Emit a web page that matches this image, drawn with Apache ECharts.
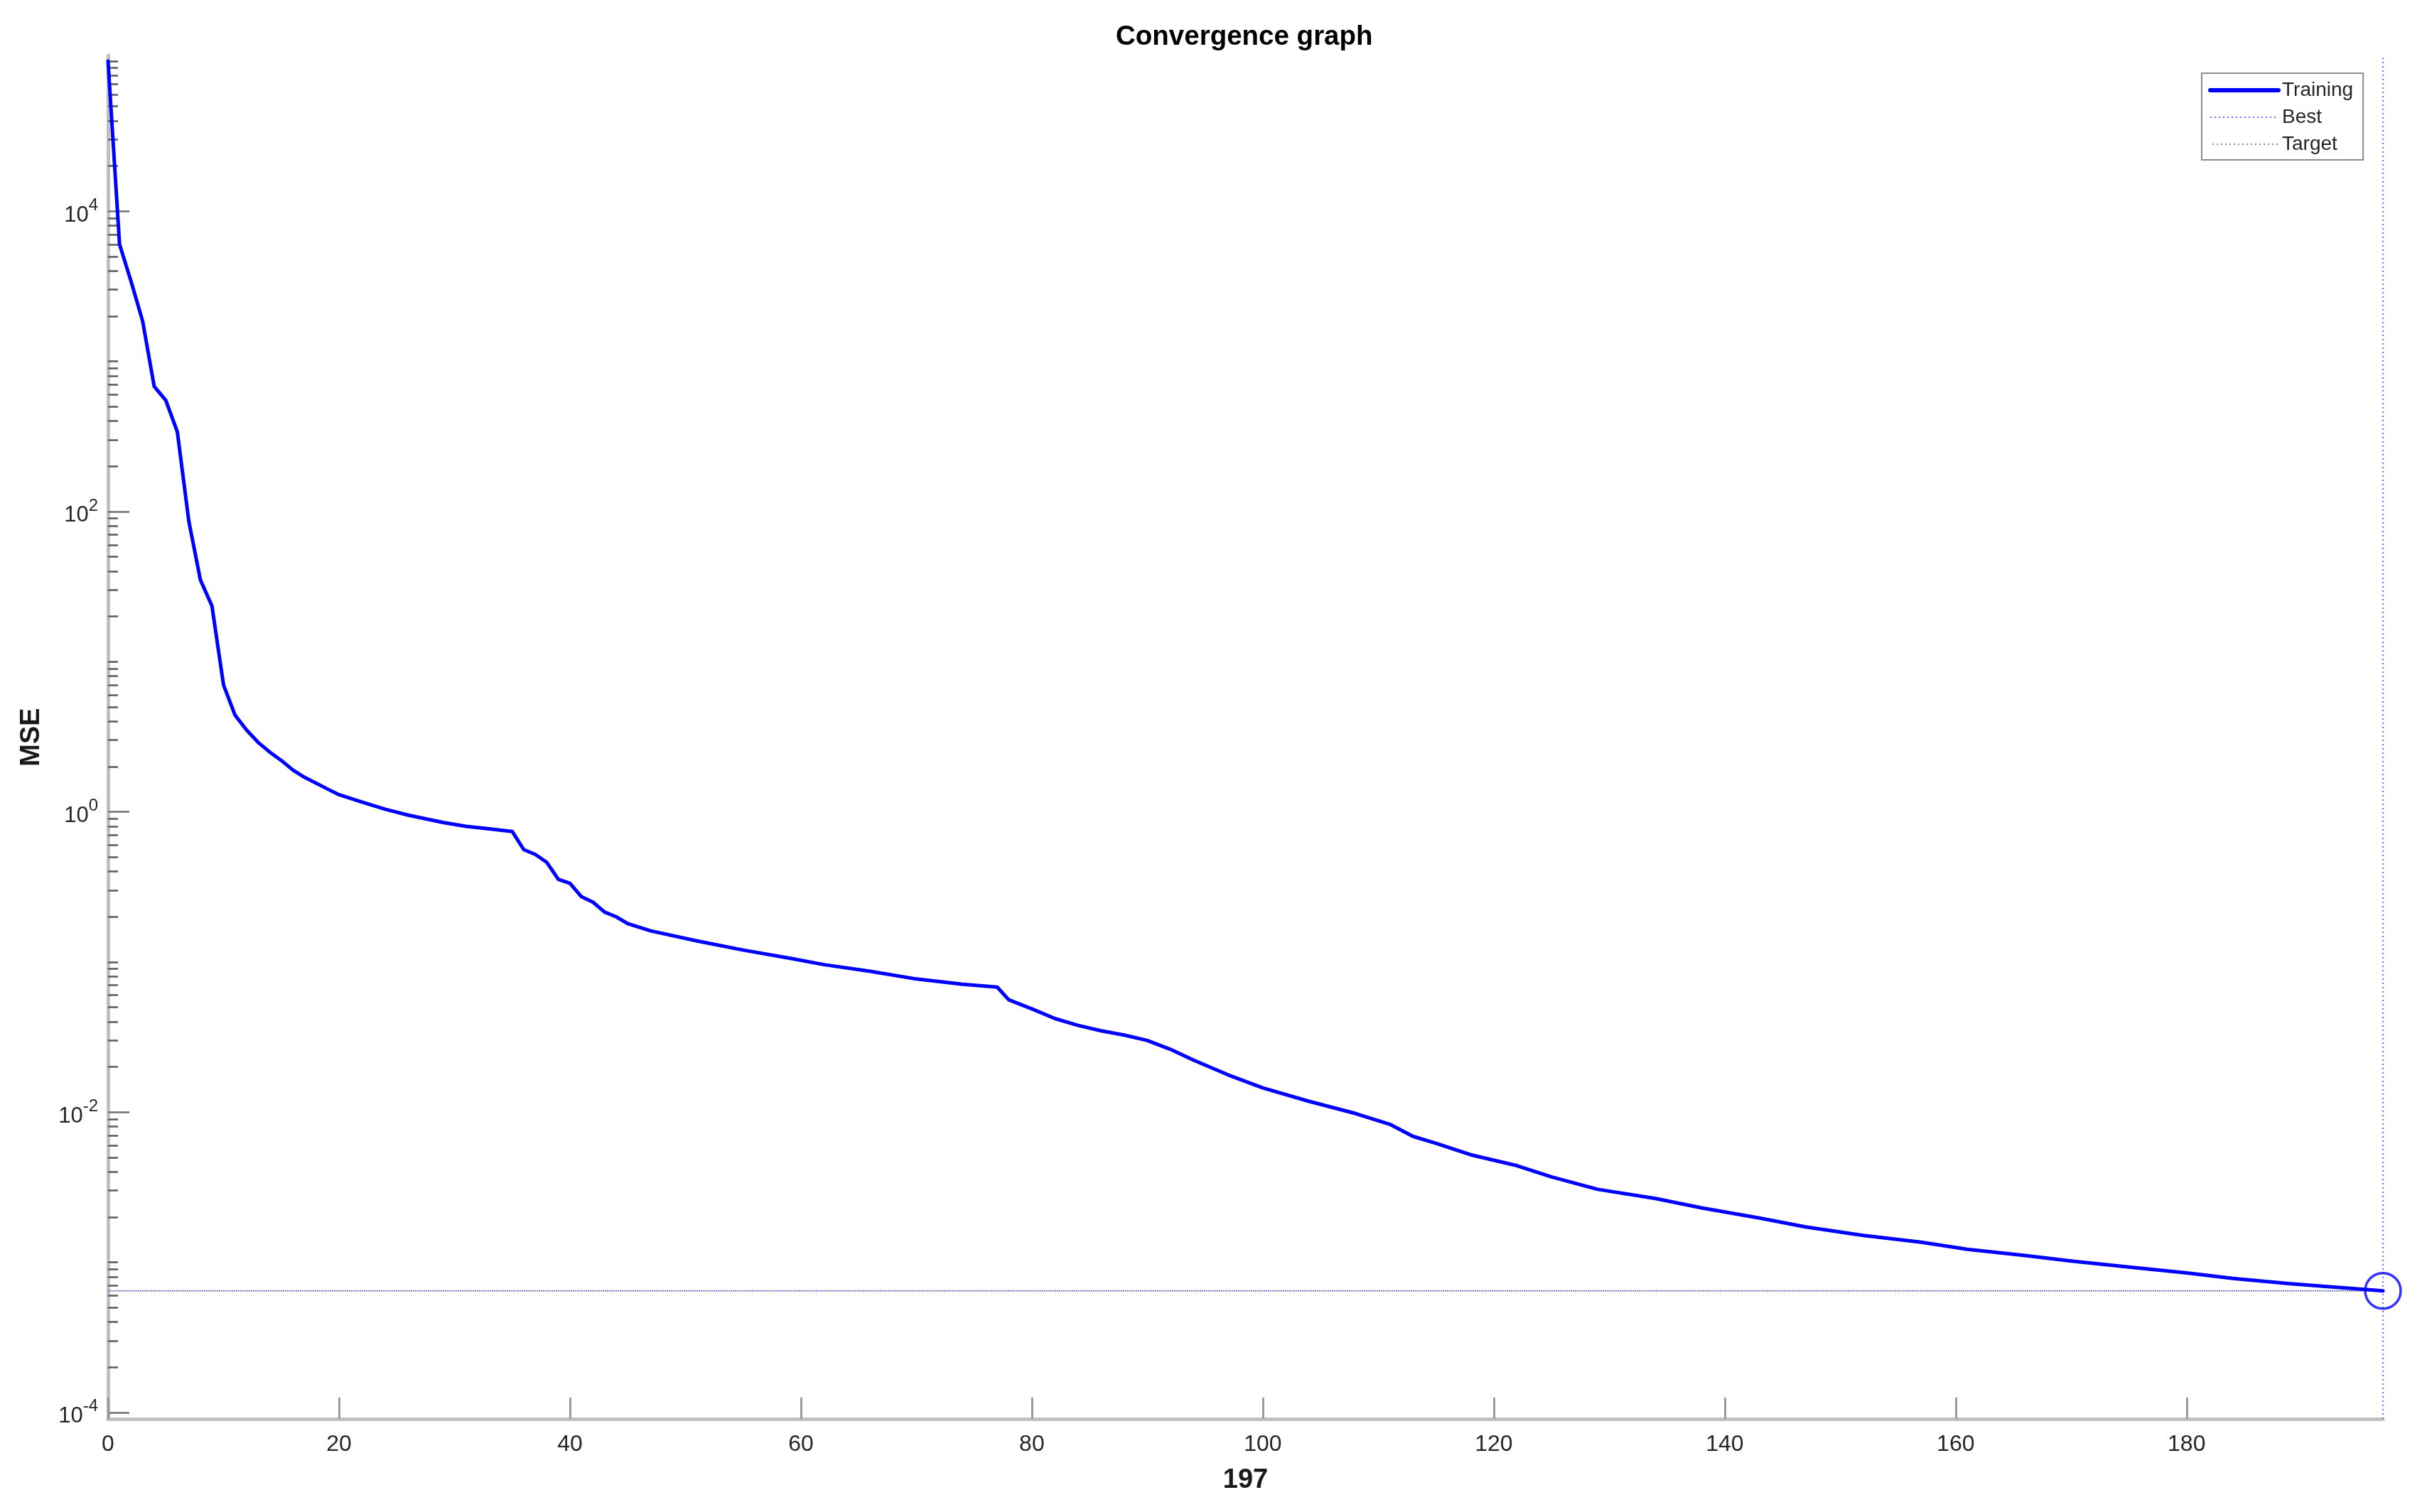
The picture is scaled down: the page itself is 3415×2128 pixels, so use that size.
<!DOCTYPE html>
<html>
<head>
<meta charset="utf-8">
<script src="https://cdn.jsdelivr.net/npm/echarts@6/dist/echarts.min.js"></script>
<style>
html,body{margin:0;padding:0;background:#fff;}
#chart{width:3415px;height:2128px;}
</style>
</head>
<body>
<div id="chart"></div>
<script>
// ---- data ----
const EPOCHS = [0,1,2,3,4,5,6,7,8,9,10,11,12,13,14,15,16,17,19,20,22,24,26,29,31,33,35,36,37,38,39,40,41,42,43,44,45,47,51,55,59,62,66,70,74,77,78,80,82,84,86,88,90,92,94,97,100,104,108,111,113,115,118,122,125,129,134,138,143,147,152,157,161,166,170,175,180,184,189,197];
const MSE = [1.0e5,6.0e3,3.4e3,1.85e3,680,550,340,86,35,23.5,7.0,4.4,3.5,2.9,2.5,2.2,1.9,1.7,1.42,1.3,1.16,1.04,0.95,0.85,0.80,0.77,0.74,0.56,0.52,0.46,0.355,0.334,0.272,0.25,0.215,0.200,0.180,0.161,0.138,0.120,0.106,0.096,0.0866,0.077,0.071,0.068,0.056,0.0487,0.042,0.0378,0.0348,0.0326,0.0300,0.0262,0.0222,0.0177,0.0145,0.0118,0.0098,0.0083,0.0069,0.0062,0.0052,0.0044,0.0037,0.00306,0.00266,0.0023,0.00197,0.00172,0.00151,0.00136,0.00122,0.00111,0.00102,0.00093,0.00085,0.00078,0.00072,0.000645];
const BEST_EPOCH = 197;
const BEST_MSE = 6.45e-4;
const TARGET_MSE = 6.45e-4;
const X_TICKS = [0,20,40,60,80,100,120,140,160,180];
const Y_MAJOR_TICKS = [1e-4,1e-2,1,1e2,1e4];
const Y_MIN = 9.05e-5;
const Y_MAX = 1.09e5;
const X_MIN = 0;
const X_MAX = 197;
const MINOR_MANTISSAS = [1,2,3,4,5,6,7,8,9];
const MINOR_DECADES = [-5,-4,-3,-2,-1,0,1,2,3,4,5];
const X_LABEL = '197';
const Y_LABEL = 'MSE';
const TITLE = 'Convergence graph';

const Y_MINOR_TICKS = [];
MINOR_DECADES.forEach(function (e) {
  MINOR_MANTISSAS.forEach(function (m) {
    if (m === 1 && Y_MAJOR_TICKS.some(function (t) { return Math.abs(Math.log10(t) - e) < 1e-9; })) return;
    const v = parseFloat((m * Math.pow(10, e)).toPrecision(3));
    if (v >= Y_MIN && v <= Y_MAX) Y_MINOR_TICKS.push(v);
  });
});

const trainingData = EPOCHS.map(function (x, i) { return [x, MSE[i]]; });
const bestHorizontal = [[X_MIN, BEST_MSE], [X_MAX, BEST_MSE]];
const bestVertical = [[BEST_EPOCH, Y_MIN], [BEST_EPOCH, Y_MAX]];
const targetHorizontal = [[X_MIN, TARGET_MSE], [X_MAX, TARGET_MSE]];

const FONT = "'Liberation Sans', Arial, Helvetica, sans-serif";
const BEST_COLOR = '#6f6fff';
const TARGET_COLOR = '#8a8a8a';

const chart = echarts.init(document.getElementById('chart'), null, {renderer: 'canvas'});
chart.setOption({
  animation: false,
  backgroundColor: '#ffffff',
  title: {
    text: TITLE,
    left: 1565,
    top: 28,
    textStyle: {fontFamily: FONT, fontSize: 38.5, fontWeight: 'bold', color: '#000000'}
  },
  legend: {
    data: [
      {name: 'Training', lineStyle: {width: 6}, itemStyle: {opacity: 0, color: 'rgba(0,0,0,0)', borderWidth: 0}},
      {name: 'Best', lineStyle: {width: 2}, itemStyle: {opacity: 0, color: 'rgba(0,0,0,0)', borderWidth: 0}},
      {name: 'Target', lineStyle: {width: 2}, itemStyle: {opacity: 0, color: 'rgba(0,0,0,0)', borderWidth: 0}}
    ],
    orient: 'vertical',
    left: 3098,
    top: 103,
    padding: [10, 14, 8, 9],
    itemGap: 10,
    itemWidth: 96,
    itemHeight: 14,
    backgroundColor: '#ffffff',
    borderColor: '#8c8c8c',
    borderWidth: 2,
    borderRadius: 0,
    textStyle: {fontFamily: FONT, fontSize: 28, color: '#262626', lineHeight: 28}
  },
  grid: {left: 152, top: 78, right: 62, bottom: 131, containLabel: false},
  xAxis: {
    type: 'value',
    min: X_MIN,
    max: X_MAX,
    name: X_LABEL,
    nameLocation: 'middle',
    nameGap: 68,
    nameTextStyle: {fontFamily: FONT, fontSize: 38, fontWeight: 'bold', color: '#1a1a1a'},
    axisLine: {show: true, onZero: false, lineStyle: {color: '#c0c0c0', width: 5}},
    axisTick: {show: true, inside: true, length: 30, customValues: X_TICKS, lineStyle: {color: '#9a9a9a', width: 3}},
    axisLabel: {show: true, customValues: X_TICKS, margin: 20, fontFamily: FONT, fontSize: 32, color: '#262626'},
    splitLine: {show: false}
  },
  yAxis: [{
    type: 'log',
    logBase: 10,
    min: Y_MIN,
    max: Y_MAX,
    name: Y_LABEL,
    nameLocation: 'middle',
    nameGap: 88,
    nameTextStyle: {fontFamily: FONT, fontSize: 38, fontWeight: 'bold', color: '#1a1a1a'},
    axisLine: {show: true, lineStyle: {color: '#c0c0c0', width: 5}},
    axisTick: {show: true, inside: true, length: 30, customValues: Y_MAJOR_TICKS, lineStyle: {color: '#707070', width: 2.5}},
    axisLabel: {
      show: true,
      customValues: Y_MAJOR_TICKS,
      margin: 14,
      padding: [12, 0, 0, 0],
      formatter: function (v) {
        const e = Math.round(Math.log10(v));
        return '{b|10}{s|' + e + '}';
      },
      rich: {
        b: {fontFamily: FONT, fontSize: 31, color: '#262626', lineHeight: 52, verticalAlign: 'middle'},
        s: {fontFamily: FONT, fontSize: 24, color: '#262626', lineHeight: 24, verticalAlign: 'top'}
      }
    },
    splitLine: {show: false}
  }, {
    type: 'log',
    logBase: 10,
    min: Y_MIN,
    max: Y_MAX,
    position: 'left',
    offset: 0,
    axisLine: {show: false},
    axisTick: {show: true, inside: true, length: 14, customValues: Y_MINOR_TICKS, lineStyle: {color: '#5a5a5a', width: 2.5}},
    axisLabel: {show: false},
    splitLine: {show: false}
  }],
  series: [
    {
      name: 'Best',
      type: 'line',
      data: bestHorizontal,
      symbol: 'none',
      silent: true,
      z: 3,
      lineStyle: {color: BEST_COLOR, width: 2, type: [2, 4]},
      itemStyle: {color: BEST_COLOR}
    },
    {
      name: 'Best',
      type: 'line',
      data: bestVertical,
      symbol: 'none',
      silent: true,
      z: 3,
      lineStyle: {color: BEST_COLOR, width: 2, type: [2, 4]},
      itemStyle: {color: BEST_COLOR}
    },
    {
      name: 'Target',
      type: 'line',
      data: targetHorizontal,
      symbol: 'none',
      silent: true,
      z: 3,
      lineStyle: {color: TARGET_COLOR, width: 2, type: [2, 4], dashOffset: 3},
      itemStyle: {color: TARGET_COLOR}
    },
    {
      name: 'Training',
      type: 'line',
      data: trainingData,
      symbol: 'none',
      z: 5,
      lineStyle: {color: '#0000ff', width: 5, join: 'round', cap: 'round'},
      itemStyle: {color: '#0000ff'}
    },
    {
      name: 'BestPoint',
      type: 'scatter',
      data: [[BEST_EPOCH, BEST_MSE]],
      symbol: 'circle',
      symbolSize: 50,
      clip: false,
      z: 6,
      itemStyle: {color: 'rgba(0,0,0,0)', borderColor: '#0000ff', borderWidth: 3.5}
    }
  ]
});
</script>
</body>
</html>
